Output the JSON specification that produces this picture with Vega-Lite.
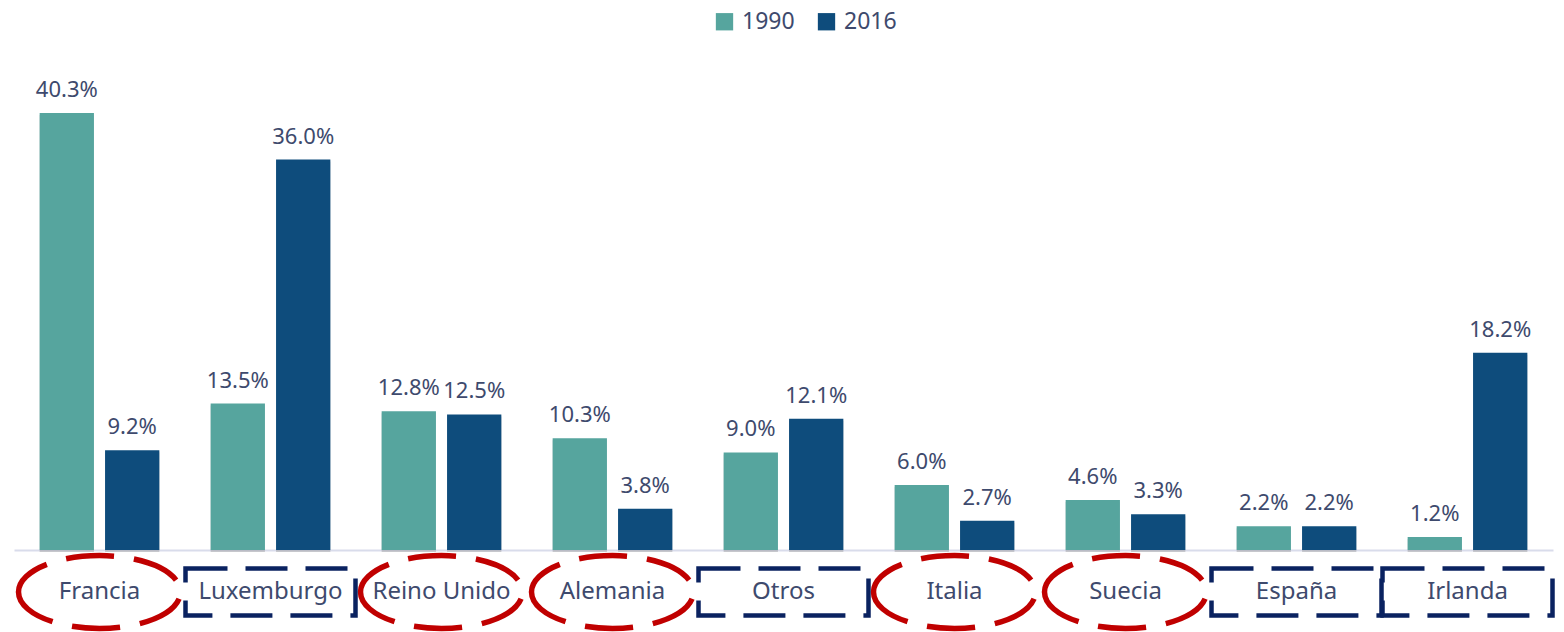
{
  "$schema": "https://vega.github.io/schema/vega-lite/v6.json",
  "width": 1539,
  "height": 488,
  "autosize": {"type": "none"},
  "padding": {"left": 14, "top": 62, "right": 11, "bottom": 82},
  "background": "white",
  "config": {
    "view": {"stroke": null},
    "font": "Noto Sans"
  },
  "datasets": {
    "bars": [
      {"country": "Francia", "year": "1990", "value": 0.403},
      {"country": "Francia", "year": "2016", "value": 0.092},
      {"country": "Luxemburgo", "year": "1990", "value": 0.135},
      {"country": "Luxemburgo", "year": "2016", "value": 0.360},
      {"country": "Reino Unido", "year": "1990", "value": 0.128},
      {"country": "Reino Unido", "year": "2016", "value": 0.125},
      {"country": "Alemania", "year": "1990", "value": 0.103},
      {"country": "Alemania", "year": "2016", "value": 0.038},
      {"country": "Otros", "year": "1990", "value": 0.090},
      {"country": "Otros", "year": "2016", "value": 0.121},
      {"country": "Italia", "year": "1990", "value": 0.060},
      {"country": "Italia", "year": "2016", "value": 0.027},
      {"country": "Suecia", "year": "1990", "value": 0.046},
      {"country": "Suecia", "year": "2016", "value": 0.033},
      {"country": "España", "year": "1990", "value": 0.022},
      {"country": "España", "year": "2016", "value": 0.022},
      {"country": "Irlanda", "year": "1990", "value": 0.012},
      {"country": "Irlanda", "year": "2016", "value": 0.182}
    ],
    "frames": [
      {"country": "Francia", "frame": "ellipse"},
      {"country": "Luxemburgo", "frame": "box"},
      {"country": "Reino Unido", "frame": "ellipse"},
      {"country": "Alemania", "frame": "ellipse"},
      {"country": "Otros", "frame": "box"},
      {"country": "Italia", "frame": "ellipse"},
      {"country": "Suecia", "frame": "ellipse"},
      {"country": "España", "frame": "box"},
      {"country": "Irlanda", "frame": "box"}
    ]
  },
  "encoding": {
    "x": {
      "field": "country",
      "type": "nominal",
      "sort": ["Francia", "Luxemburgo", "Reino Unido", "Alemania", "Otros", "Italia", "Suecia", "España", "Irlanda"],
      "scale": {"paddingInner": 0.3, "paddingOuter": 0.15},
      "axis": {
        "title": null,
        "labelAngle": 0,
        "ticks": false,
        "domainColor": "#D9DCEB",
        "domainWidth": 2,
        "labelFontSize": 24,
        "labelColor": "#3E4A6D",
        "labelPadding": 29,
        "labelFont": "Noto Sans"
      }
    }
  },
  "layer": [
    {
      "data": {"name": "bars"},
      "mark": {"type": "bar", "color": "#808080", "opacity": 0.35, "xOffset": 4, "yOffset": 2},
      "encoding": {
        "xOffset": {"field": "year", "type": "nominal", "scale": {"paddingInner": 0.17, "paddingOuter": 0}},
        "y": {"field": "value", "type": "quantitative", "scale": {"domain": [0, 0.45]}, "axis": null}
      }
    },
    {
      "data": {"name": "bars"},
      "mark": {"type": "bar"},
      "encoding": {
        "xOffset": {"field": "year", "type": "nominal", "scale": {"paddingInner": 0.17, "paddingOuter": 0}},
        "y": {"field": "value", "type": "quantitative", "scale": {"domain": [0, 0.45]}, "axis": null},
        "color": {
          "field": "year",
          "type": "nominal",
          "scale": {"domain": ["1990", "2016"], "range": ["#56A59E", "#0E4C7C"]},
          "legend": {
            "title": null,
            "orient": "none",
            "legendX": 699,
            "legendY": -52,
            "direction": "horizontal",
            "symbolType": "square",
            "symbolSize": 300,
            "symbolStrokeWidth": 0,
            "symbolOpacity": 1,
            "labelFontSize": 23,
            "labelColor": "#3E4A6D",
            "labelFont": "Noto Sans",
            "columnPadding": 20,
            "labelOffset": 6
          }
        }
      }
    },
    {
      "data": {"name": "bars"},
      "mark": {"type": "text", "baseline": "bottom", "dy": -11, "fontSize": 22, "color": "#3E4A6D", "font": "Noto Sans"},
      "encoding": {
        "xOffset": {"field": "year", "type": "nominal", "scale": {"paddingInner": 0.17, "paddingOuter": 0}},
        "y": {"field": "value", "type": "quantitative", "scale": {"domain": [0, 0.45]}, "axis": null},
        "text": {"field": "value", "type": "quantitative", "format": ".1%"}
      }
    },
    {
      "data": {"name": "frames"},
      "transform": [{"filter": "datum.frame === 'ellipse'"}],
      "mark": {
        "type": "point",
        "shape": "M -1 0 A 1 0.45 0 1 0 1 0 A 1 0.45 0 1 0 -1 0 Z",
        "size": 26244,
        "filled": false,
        "stroke": "#C00000",
        "strokeWidth": 5.5,
        "strokeDash": [48, 20],
        "opacity": 1,
        "yOffset": 42,
        "clip": false
      },
      "encoding": {
        "y": {"datum": 0, "type": "quantitative"}
      }
    },
    {
      "data": {"name": "frames"},
      "transform": [{"filter": "datum.frame === 'box'"}],
      "mark": {
        "type": "point",
        "shape": "M -1 -0.276 L 1 -0.276 L 1 0.276 L -1 0.276 Z",
        "size": 28900,
        "filled": false,
        "stroke": "#0A2260",
        "strokeWidth": 4.5,
        "strokeDash": [42, 18],
        "opacity": 1,
        "yOffset": 42,
        "clip": false
      },
      "encoding": {
        "y": {"datum": 0, "type": "quantitative"}
      }
    }
  ]
}
